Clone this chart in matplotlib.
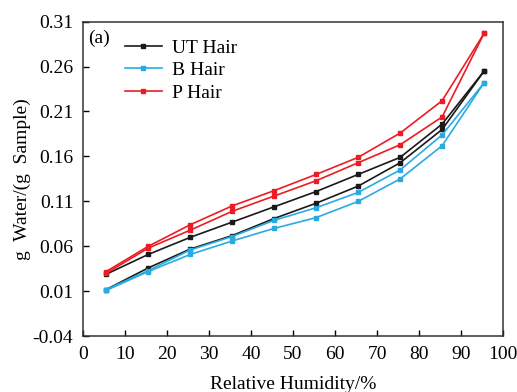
import matplotlib
matplotlib.use("Agg")
import matplotlib.pyplot as plt

plt.rcParams['font.family'] = ['Liberation Serif', 'DejaVu Serif']

# relative humidity steps
rh = [5.5, 15.5, 25.5, 35.5, 45.5, 55.5, 65.5, 75.5, 85.5, 95.5]

# adsorption (lower) and desorption (upper) branches
ut_ads = [0.012, 0.036, 0.057, 0.072, 0.091, 0.108, 0.127, 0.153, 0.190, 0.255]
ut_des = [0.029, 0.051, 0.070, 0.087, 0.104, 0.121, 0.140, 0.159, 0.196, 0.255]
b_ads = [0.011, 0.032, 0.051, 0.066, 0.080, 0.092, 0.110, 0.135, 0.172, 0.242]
b_des = [0.012, 0.033, 0.056, 0.071, 0.089, 0.103, 0.120, 0.145, 0.184, 0.242]
p_ads = [0.030, 0.058, 0.078, 0.099, 0.116, 0.133, 0.153, 0.173, 0.204, 0.297]
p_des = [0.032, 0.060, 0.084, 0.105, 0.122, 0.140, 0.159, 0.186, 0.222, 0.297]

series = [
    ("UT Hair", "#1a1a1a", ut_ads, ut_des),
    ("B Hair", "#29abe2", b_ads, b_des),
    ("P Hair", "#ed1c24", p_ads, p_des),
]

fig = plt.figure(figsize=(5.17, 3.92), dpi=100)
ax = fig.add_axes([0.1605, 0.142, 0.8125, 0.803])

for name, col, ads, des in series:
    ax.plot(rh, ads, color=col, lw=1.2, marker='s', ms=3.5, label=name)
    ax.plot(rh, des, color=col, lw=1.2, marker='s', ms=3.5)

ax.set_xlim(0, 100)
ax.set_ylim(-0.04, 0.31)
ax.set_xticks(range(0, 101, 10))
ax.set_yticks([-0.04, 0.01, 0.06, 0.11, 0.16, 0.21, 0.26, 0.31])
ax.set_yticklabels(['-0.04', '0.01', '0.06', '0.11', '0.16', '0.21', '0.26', '0.31'])
ax.tick_params(direction='in', labelsize=14, length=4, width=1)
ax.tick_params(axis='y', pad=7)
ax.tick_params(axis='x', pad=7)
for s in ax.spines.values():
    s.set_linewidth(1.1)
    s.set_color('#333333')

ax.set_xlabel("Relative Humidity/%", fontsize=14, labelpad=9)
ax.set_ylabel("g  Water/(g  Sample)", fontsize=14, labelpad=1)

ax.text(0.012, 0.975, "(a)", transform=ax.transAxes, fontsize=14, va='top')
ax.legend(loc='upper left', bbox_to_anchor=(0.058, 1.0), frameon=False,
          fontsize=14, handlelength=1.9, handletextpad=0.5, labelspacing=0.25)

fig.savefig("out.png", dpi=100)
